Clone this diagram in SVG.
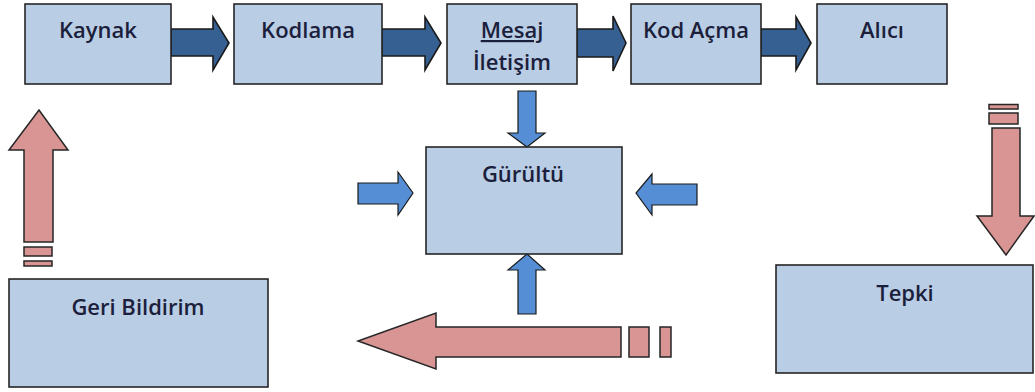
<svg xmlns="http://www.w3.org/2000/svg" width="1035" height="392" viewBox="0 0 1035 392">
  <style>
    .box { fill: #b9cde5; stroke: #262626; stroke-width: 1.6; }
    .lbl { font-family: "Open Sans", "Liberation Sans", sans-serif; font-size: 22px; font-weight: 600; fill: #1c1f3c; text-anchor: middle; }
    .dark { fill: #376092; stroke: #1a1a1a; stroke-width: 1.6; stroke-linejoin: miter; }
    .blue { fill: #558ed5; stroke: #1a1a1a; stroke-width: 1.2; }
    .pink { fill: #d99594; stroke: #262626; stroke-width: 1.5; }
  </style>
  <rect width="1035" height="392" fill="#ffffff"/>

  <!-- connectors -->
  <g id="connectors">
    <!-- main flow arrows along the top row -->
    <polygon class="dark" points="171,29 213,29 213,17 229,43 213,70 213,56 171,56"/>
    <polygon class="dark" points="382,29 425,29 425,17 441,43 425,70 425,56 382,56"/>
    <polygon class="dark" points="577,29 613,29 613,16 626,43 613,71 613,57 577,57"/>
    <polygon class="dark" points="761,29 796,29 796,17 811,43 796,70 796,56 761,56"/>

    <!-- noise arrows around the centre box -->
    <polygon class="blue" points="518,91 536,91 536,133 545,133 527,147 508,133 518,133"/>
    <polygon class="blue" points="518,314 536,314 536,270 545,270 527,254 508,270 518,270"/>
    <polygon class="blue" points="358,183 398,183 398,172 413,193 398,215 398,204 358,204"/>
    <polygon class="blue" points="697,184 652,184 652,174 636,193 652,215 652,205 697,205"/>

    <!-- response path down from the receiver -->
    <rect class="pink" x="989" y="104.5" width="29" height="4.5"/>
    <rect class="pink" x="989" y="113" width="29" height="11"/>
    <polygon class="pink" points="992,128 1020,128 1020,216 1034,216 1006,255 977,216 992,216"/>

    <!-- feedback path along the bottom -->
    <rect class="pink" x="629" y="327" width="20" height="30"/>
    <rect class="pink" x="660" y="327" width="11" height="30"/>
    <polygon class="pink" points="621,327 436,327 436,313 358,341 436,369 436,357 621,357"/>

    <!-- feedback path up to the source -->
    <rect class="pink" x="24" y="247" width="28" height="9"/>
    <rect class="pink" x="24" y="261" width="28" height="5"/>
    <polygon class="pink" points="24,242 24,150 9,150 39,110 68,150 53,150 53,242"/>
  </g>

  <g id="kaynak">
    <rect class="box" x="25" y="4" width="146" height="80"/>
    <text class="lbl" x="98" y="38">Kaynak</text>
  </g>
  <g id="kodlama">
    <rect class="box" x="234" y="4" width="148" height="80"/>
    <text class="lbl" x="308" y="38">Kodlama</text>
  </g>
  <g id="mesaj">
    <rect class="box" x="447" y="4" width="130" height="80"/>
    <text class="lbl" x="512" y="38" text-decoration="underline">Mesaj</text>
    <text class="lbl" x="512" y="70">İletişim</text>
  </g>
  <g id="kod-acma">
    <rect class="box" x="631" y="4" width="130" height="80"/>
    <text class="lbl" x="696" y="38">Kod Açma</text>
  </g>
  <g id="alici">
    <rect class="box" x="817" y="4" width="130" height="80"/>
    <text class="lbl" x="882" y="38">Alıcı</text>
  </g>
  <g id="gurultu">
    <rect class="box" x="426" y="147" width="196" height="107"/>
    <text class="lbl" x="523" y="182">Gürültü</text>
  </g>
  <g id="geri-bildirim">
    <rect class="box" x="9" y="279" width="259" height="108"/>
    <text class="lbl" x="138" y="315">Geri Bildirim</text>
  </g>
  <g id="tepki">
    <rect class="box" x="776" y="265" width="257" height="108"/>
    <text class="lbl" x="905" y="301">Tepki</text>
  </g>
</svg>
